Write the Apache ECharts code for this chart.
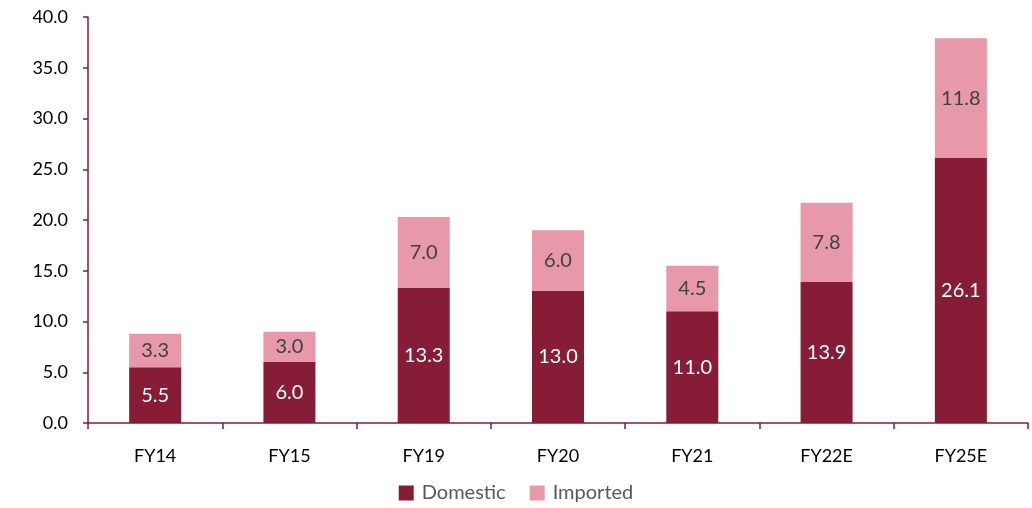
<!DOCTYPE html>
<html><head><meta charset="utf-8">
<script src="https://cdn.jsdelivr.net/npm/echarts@6/dist/echarts.min.js"></script>
<style>html,body{margin:0;padding:0;background:#fff}#c{width:1032px;height:508px}</style>
</head><body><div id="c"></div>
<script>
const categories = ['FY14','FY15','FY19','FY20','FY21','FY22E','FY25E'];
const domestic = [5.5, 6.0, 13.3, 13.0, 11.0, 13.9, 26.1];
const imported = [3.3, 3.0, 7.0, 6.0, 4.5, 7.8, 11.8];
const yTicks = [0,5,10,15,20,25,30,35,40];

const chart = echarts.init(document.getElementById('c'));
const axisColor = '#8B1A38';
const font = 'Lato, "Liberation Sans", sans-serif';
chart.setOption({
  animation: false,
  grid: {left: 88, right: 4, top: 17, bottom: 85},
  legend: {
    bottom: 0, left: 'center', itemWidth: 15, itemHeight: 15, itemGap: 24,
    icon: 'rect',
    textStyle: {color: '#595959', fontSize: 20, fontFamily: font, padding: [0, 0, 0, 3]},
    data: ['Domestic','Imported']
  },
  xAxis: {
    type: 'category', data: categories,
    axisLine: {lineStyle: {color: axisColor, width: 1.5}},
    axisTick: {show: true, length: 6, lineStyle: {color: axisColor, width: 1.5}},
    axisLabel: {color: '#000', fontSize: 18, fontFamily: font, margin: 24}
  },
  yAxis: {
    type: 'value', min: 0, max: 40, interval: 5,
    splitLine: {show: false},
    axisLine: {show: true, lineStyle: {color: axisColor, width: 1.5}},
    axisTick: {show: true, length: 5, lineStyle: {color: axisColor, width: 1.5}},
    axisLabel: {color: '#000', fontSize: 18, fontFamily: font, margin: 20,
      formatter: v => yTicks.includes(v) ? v.toFixed(1) : ''}
  },
  series: [
    {name: 'Domestic', type: 'bar', stack: 's', data: domestic, barWidth: 52,
     itemStyle: {color: '#861C35'},
     label: {show: true, position: 'inside', color: '#fff', fontSize: 20, fontFamily: font,
       formatter: p => p.value.toFixed(1)}},
    {name: 'Imported', type: 'bar', stack: 's', data: imported, barWidth: 52,
     itemStyle: {color: '#E899A9'},
     label: {show: true, position: 'inside', color: '#404040', fontSize: 20, fontFamily: font,
       formatter: p => p.value.toFixed(1)}}
  ]
});
</script></body></html>
